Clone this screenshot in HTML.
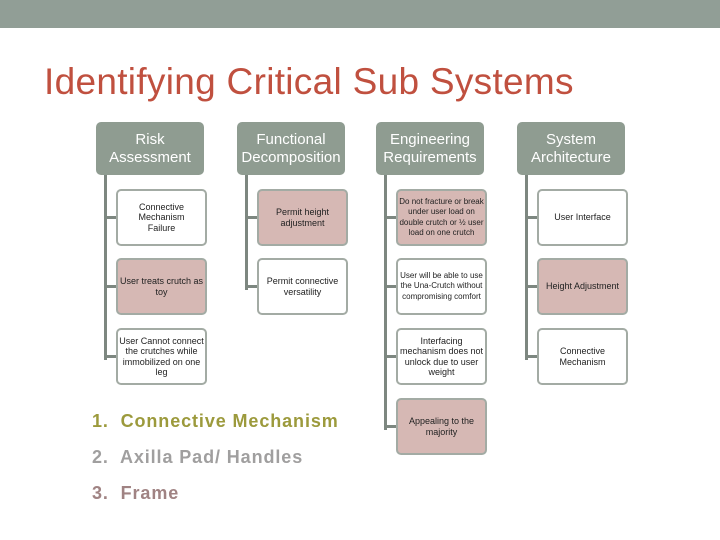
<!DOCTYPE html>
<html><head><meta charset="utf-8"><style>
body{margin:0;width:720px;height:540px;background:#fff;position:relative;overflow:hidden;font-family:"Liberation Sans",sans-serif}
.ban{position:absolute;left:0;top:0;width:720px;height:28px;background:#919e96}
.t{position:absolute;left:44px;top:61px;font-size:37px;letter-spacing:0.3px;color:#c0503f;white-space:nowrap}
.h{position:absolute;width:108px;height:53px;background:#8f9c91;border-radius:5px;color:#fff;font-size:15px;line-height:18px;display:flex;align-items:center;justify-content:center;text-align:center}
.b{position:absolute;width:87px;height:53px;border:2px solid #a3aba4;border-radius:5px;background:#fff;font-size:9px;line-height:10.5px;display:flex;align-items:center;justify-content:center;text-align:center;color:#222;box-sizing:content-box}
.p{background:#d6b8b4}
.v{position:absolute;width:3px;background:#7d8780}
.s{position:absolute;height:3px;width:12px;background:#7d8780}
.l{position:absolute;left:92px;font-size:18px;font-weight:bold;white-space:nowrap;letter-spacing:0.9px}
</style></head><body>
<div class="ban"></div>
<div class="t">Identifying Critical Sub Systems</div>

<div class="h" style="left:96px;top:122px">Risk<br>Assessment</div>
<div class="h" style="left:237px;top:122px">Functional<br>Decomposition</div>
<div class="h" style="left:376px;top:122px">Engineering<br>Requirements</div>
<div class="h" style="left:517px;top:122px">System<br>Architecture</div>

<div class="v" style="left:104px;top:175px;height:185px"></div>
<div class="s" style="left:104px;top:216px"></div>
<div class="s" style="left:104px;top:285px"></div>
<div class="s" style="left:104px;top:355px"></div>
<div class="b" style="left:116px;top:189px">Connective<br>Mechanism<br>Failure</div>
<div class="b p" style="left:116px;top:258px">User treats crutch as toy</div>
<div class="b" style="left:116px;top:328px">User Cannot connect the crutches while immobilized on one leg</div>

<div class="v" style="left:245px;top:175px;height:115px"></div>
<div class="s" style="left:245px;top:216px"></div>
<div class="s" style="left:245px;top:285px"></div>
<div class="b p" style="left:257px;top:189px">Permit height adjustment</div>
<div class="b" style="left:257px;top:258px">Permit connective versatility</div>

<div class="v" style="left:384px;top:175px;height:255px"></div>
<div class="s" style="left:384px;top:216px"></div>
<div class="s" style="left:384px;top:285px"></div>
<div class="s" style="left:384px;top:355px"></div>
<div class="s" style="left:384px;top:425px"></div>
<div class="b p" style="left:396px;top:189px;font-size:8px">Do not fracture or break under user load on double crutch or ½ user load on one crutch</div>
<div class="b" style="left:396px;top:258px;font-size:8px">User will be able to use the Una-Crutch without compromising comfort</div>
<div class="b" style="left:396px;top:328px">Interfacing mechanism does not unlock due to user weight</div>
<div class="b p" style="left:396px;top:398px">Appealing to the majority</div>

<div class="v" style="left:525px;top:175px;height:185px"></div>
<div class="s" style="left:525px;top:216px"></div>
<div class="s" style="left:525px;top:285px"></div>
<div class="s" style="left:525px;top:355px"></div>
<div class="b" style="left:537px;top:189px">User Interface</div>
<div class="b p" style="left:537px;top:258px">Height Adjustment</div>
<div class="b" style="left:537px;top:328px">Connective<br>Mechanism</div>

<div class="l" style="top:411px;color:#9c9a3c">1.&nbsp; Connective Mechanism</div>
<div class="l" style="top:447px;color:#a09f9f">2.&nbsp; Axilla Pad/ Handles</div>
<div class="l" style="top:483px;color:#a08383">3.&nbsp; Frame</div>
</body></html>
